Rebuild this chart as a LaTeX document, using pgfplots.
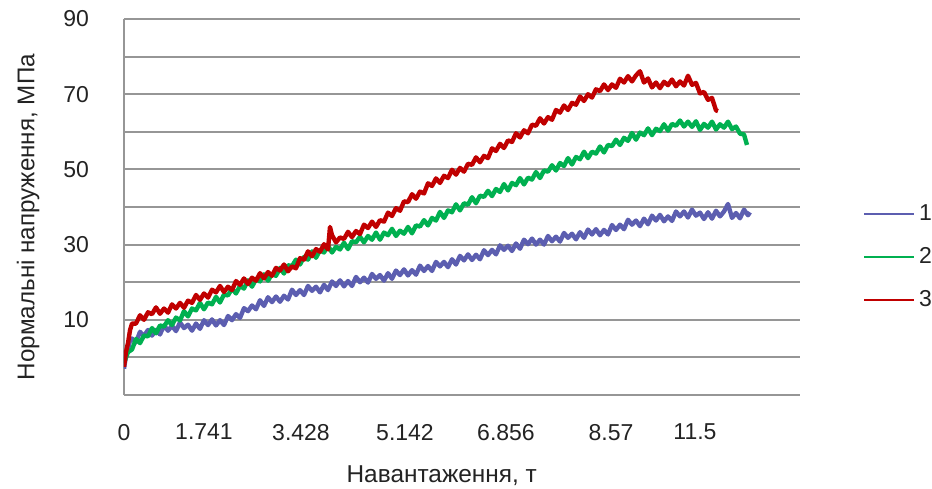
\documentclass[border=0pt]{standalone}
\usepackage{fontspec}
\setmainfont{Liberation Sans}
\usepackage{pgfplots}
\pgfplotsset{compat=1.18}
\definecolor{s1}{RGB}{92,94,176}
\definecolor{s2}{RGB}{0,176,80}
\definecolor{s3}{RGB}{192,0,0}
\definecolor{gridc}{RGB}{150,150,150}
\definecolor{txt}{RGB}{35,35,35}
\begin{document}
\begin{tikzpicture}
\useasboundingbox (0,0) rectangle (466pt,244pt);
\begin{axis}[
 at={(62pt,46.5pt)}, anchor=south west,
 scale only axis, width=338pt, height=188pt,
 xmin=0, xmax=676, ymin=-10, ymax=90,
 axis x line*=bottom, axis y line*=left,
 axis line style={draw=gridc, line width=1pt},
 ymajorgrids, grid style={draw=gridc, line width=1pt},
 ytick={-10,0,...,90}, yticklabels={,,10,,30,,50,,70,,90},
 xtick={0,80,177,281,382,487,571},
 xticklabels={0,1.741,3.428,5.142,6.856,8.57,11.5},
 major tick length=0pt,
 tick label style={font=\fontsize{11.5}{13}\selectfont, text=txt},
 yticklabel style={xshift=-14pt},
 xticklabel style={yshift=-11pt},
 xlabel={Навантаження, т},
 xlabel style={at={(axis description cs:0.470,-0.215)}, anchor=center, font=\fontsize{12.2}{14}\selectfont, text=txt},
 ylabel={Нормальні напруження, МПа},
 ylabel style={at={(axis description cs:-0.142,0.473)}, anchor=center, font=\fontsize{12.1}{14}\selectfont, text=txt},
 legend style={at={(axis description cs:1.093,0.367)}, anchor=west, draw=none, fill=none, inner sep=0pt, row sep=8pt, font=\fontsize{11.5}{13}\selectfont, text=txt},
 legend cell align=left,
 legend image code/.code={\draw[#1, line width=0.9pt] (0pt,0pt) -- (25pt,0pt);},
]
\addplot[s1, line width=2.2pt, line join=round] coordinates {
(0,-3.0) (2,0.4) (4,2.1) (6,4.5) (8,5.0) (12,4.0) (16,6.8) (20,5.7) (24,7.3) (28,5.8) (32,7.3) (36,6.1) (40,8.5) (44,7.1) (48,8.4) (52,7.0) (56,9.3) (60,7.8) (64,8.7) (68,7.1) (72,9.0) (76,7.6) (80,9.9) (84,8.6) (88,10.1) (92,8.5) (96,9.9) (100,8.6) (104,11.0) (108,9.9) (112,11.5) (116,10.5) (120,13.1) (124,12.3) (128,13.8) (132,12.8) (136,15.2) (140,13.7) (144,16.0) (148,14.7) (152,16.2) (156,14.8) (160,16.4) (164,15.4) (168,18.0) (172,16.6) (176,17.9) (180,16.6) (184,19.0) (188,17.7) (192,18.8) (196,17.3) (200,19.3) (204,17.9) (208,20.2) (212,19.0) (216,20.5) (220,18.9) (224,20.3) (228,19.0) (232,21.4) (236,20.0) (240,21.2) (244,19.9) (248,22.2) (252,20.9) (256,21.9) (260,20.4) (264,22.4) (268,20.9) (272,23.1) (276,21.9) (280,23.4) (284,21.8) (288,23.2) (292,22.0) (296,24.4) (300,23.0) (304,24.3) (308,23.0) (312,25.4) (316,24.2) (320,25.4) (324,24.0) (328,26.1) (332,24.7) (336,27.0) (340,25.8) (344,27.4) (348,25.9) (352,27.3) (356,26.1) (360,28.5) (364,27.2) (368,28.6) (372,27.4) (376,29.8) (380,28.6) (384,29.7) (388,28.3) (392,30.3) (396,28.9) (400,31.3) (404,30.1) (408,31.6) (412,30.0) (416,31.3) (420,30.0) (424,32.3) (428,30.9) (432,32.1) (436,30.8) (440,33.1) (444,31.8) (448,32.9) (452,31.4) (456,33.3) (460,31.8) (464,34.0) (468,32.7) (472,34.1) (476,32.5) (480,33.9) (484,32.7) (488,35.2) (492,33.9) (496,35.3) (500,34.1) (504,36.6) (508,35.3) (512,36.4) (516,34.9) (520,36.9) (524,35.4) (528,37.7) (532,36.4) (536,37.9) (540,36.2) (544,37.5) (548,36.3) (552,38.8) (556,37.5) (560,38.8) (564,37.2) (568,39.3) (572,37.7) (576,38.5) (580,36.8) (584,38.6) (588,36.9) (592,39.0) (596,37.5) (600,38.8) (604,40.8) (608,37.1) (612,38.4) (616,37.0) (620,39.3) (624,37.8) (626,38.6)
};
\addlegendentry{1}
\addplot[s2, line width=2.2pt, line join=round] coordinates {
(0,-1.5) (4,1.4) (8,2.1) (12,4.9) (16,3.8) (20,5.8) (24,5.6) (28,7.8) (32,6.4) (36,8.5) (40,8.2) (44,9.9) (48,8.6) (52,10.6) (56,9.8) (60,12.3) (64,10.9) (68,13.0) (72,12.5) (76,14.5) (80,12.8) (84,14.6) (88,14.1) (92,16.1) (96,14.6) (100,16.7) (104,16.5) (108,18.3) (112,17.0) (116,19.0) (120,18.3) (124,20.5) (128,18.8) (132,20.8) (136,20.2) (140,22.1) (144,20.4) (148,22.2) (152,21.7) (156,23.8) (160,22.3) (164,24.5) (168,24.3) (172,26.0) (176,24.7) (180,26.7) (184,26.0) (188,28.2) (192,26.5) (196,28.5) (200,27.9) (204,29.7) (208,27.9) (212,29.4) (216,28.7) (220,30.5) (224,28.8) (228,30.9) (232,30.6) (236,32.1) (240,30.6) (244,32.3) (248,31.3) (252,33.2) (256,31.3) (260,33.2) (264,32.5) (268,34.2) (272,32.3) (276,33.7) (280,32.9) (284,34.7) (288,33.0) (292,35.1) (296,34.8) (300,36.5) (304,35.1) (308,37.1) (312,36.4) (316,38.7) (320,37.1) (324,39.1) (328,38.6) (332,40.7) (336,39.1) (340,41.0) (344,40.6) (348,42.6) (352,41.0) (356,43.0) (360,42.7) (364,44.3) (368,42.9) (372,44.8) (376,44.0) (380,46.1) (384,44.4) (388,46.4) (392,45.8) (396,47.7) (400,46.0) (404,47.8) (408,47.3) (412,49.3) (416,47.7) (420,49.7) (424,49.4) (428,51.1) (432,49.7) (436,51.7) (440,50.9) (444,53.0) (448,51.3) (452,53.3) (456,52.7) (460,54.7) (464,53.0) (468,54.7) (472,54.2) (476,56.1) (480,54.5) (484,56.5) (488,56.2) (492,57.9) (496,56.5) (500,58.4) (504,57.6) (508,59.7) (512,57.9) (516,59.8) (520,59.1) (524,60.9) (528,59.1) (532,60.8) (536,60.2) (540,62.0) (544,60.3) (548,62.1) (552,61.6) (556,63.0) (560,61.4) (564,62.7) (568,61.3) (572,62.8) (576,60.5) (580,62.1) (584,61.1) (588,62.7) (592,60.6) (596,62.0) (600,61.1) (604,62.7) (608,60.7) (612,61.4) (616,59.5) (620,59.3) (623,56.5)
};
\addlegendentry{2}
\addplot[s3, line width=2.2pt, line join=round] coordinates {
(0,-2.5) (2,1.5) (4,3.8) (6,7.2) (8,9.0) (12,9.0) (16,11.2) (20,10.0) (24,12.0) (28,11.5) (32,13.3) (36,11.6) (40,13.0) (44,11.9) (48,14.1) (52,13.0) (56,14.5) (60,13.2) (64,15.1) (68,14.5) (72,16.6) (76,15.3) (80,17.0) (84,15.9) (88,18.0) (92,17.3) (96,19.0) (100,17.4) (104,18.8) (108,17.9) (112,20.3) (116,19.3) (120,21.0) (124,19.5) (128,21.2) (132,20.4) (136,22.4) (140,21.0) (144,22.7) (148,21.7) (152,23.8) (156,23.1) (160,24.7) (164,22.9) (168,24.2) (172,23.7) (176,26.4) (180,26.0) (184,28.2) (188,26.9) (192,28.8) (196,28.1) (200,30.1) (204,28.7) (206,34.7) (208,32.5) (212,30.6) (216,31.9) (220,31.5) (224,33.4) (228,32.0) (232,33.6) (236,32.8) (240,35.3) (244,34.4) (248,36.1) (252,34.7) (256,36.5) (260,36.1) (264,38.5) (268,37.6) (272,39.7) (276,39.0) (280,41.5) (284,41.3) (288,43.4) (292,42.2) (296,44.1) (300,43.6) (304,46.3) (308,45.6) (312,47.6) (316,46.4) (320,48.3) (324,47.7) (328,49.9) (332,48.6) (336,50.4) (340,49.4) (344,51.5) (348,51.2) (352,53.2) (356,51.9) (360,53.6) (364,53.0) (368,55.6) (372,54.9) (376,56.8) (380,55.7) (384,57.7) (388,57.3) (392,59.6) (396,58.5) (400,60.4) (404,59.6) (408,61.9) (412,61.6) (416,63.6) (420,62.2) (424,63.9) (428,63.2) (432,65.8) (436,65.1) (440,67.0) (444,65.8) (448,67.7) (452,67.2) (456,69.4) (460,68.2) (464,70.0) (468,69.1) (472,71.3) (476,70.8) (480,72.6) (484,71.1) (488,72.6) (492,71.7) (496,74.1) (500,73.1) (504,74.8) (508,73.4) (512,75.0) (516,76.1) (520,73.1) (524,74.2) (528,71.8) (532,73.1) (536,71.6) (540,73.3) (544,72.4) (548,73.9) (552,72.1) (556,73.4) (560,72.3) (564,74.9) (568,72.5) (572,73.0) (576,70.2) (580,70.6) (584,68.5) (588,69.0) (592,65.7) (594,65.5)
};
\addlegendentry{3}
\end{axis}
\end{tikzpicture}
\end{document}
